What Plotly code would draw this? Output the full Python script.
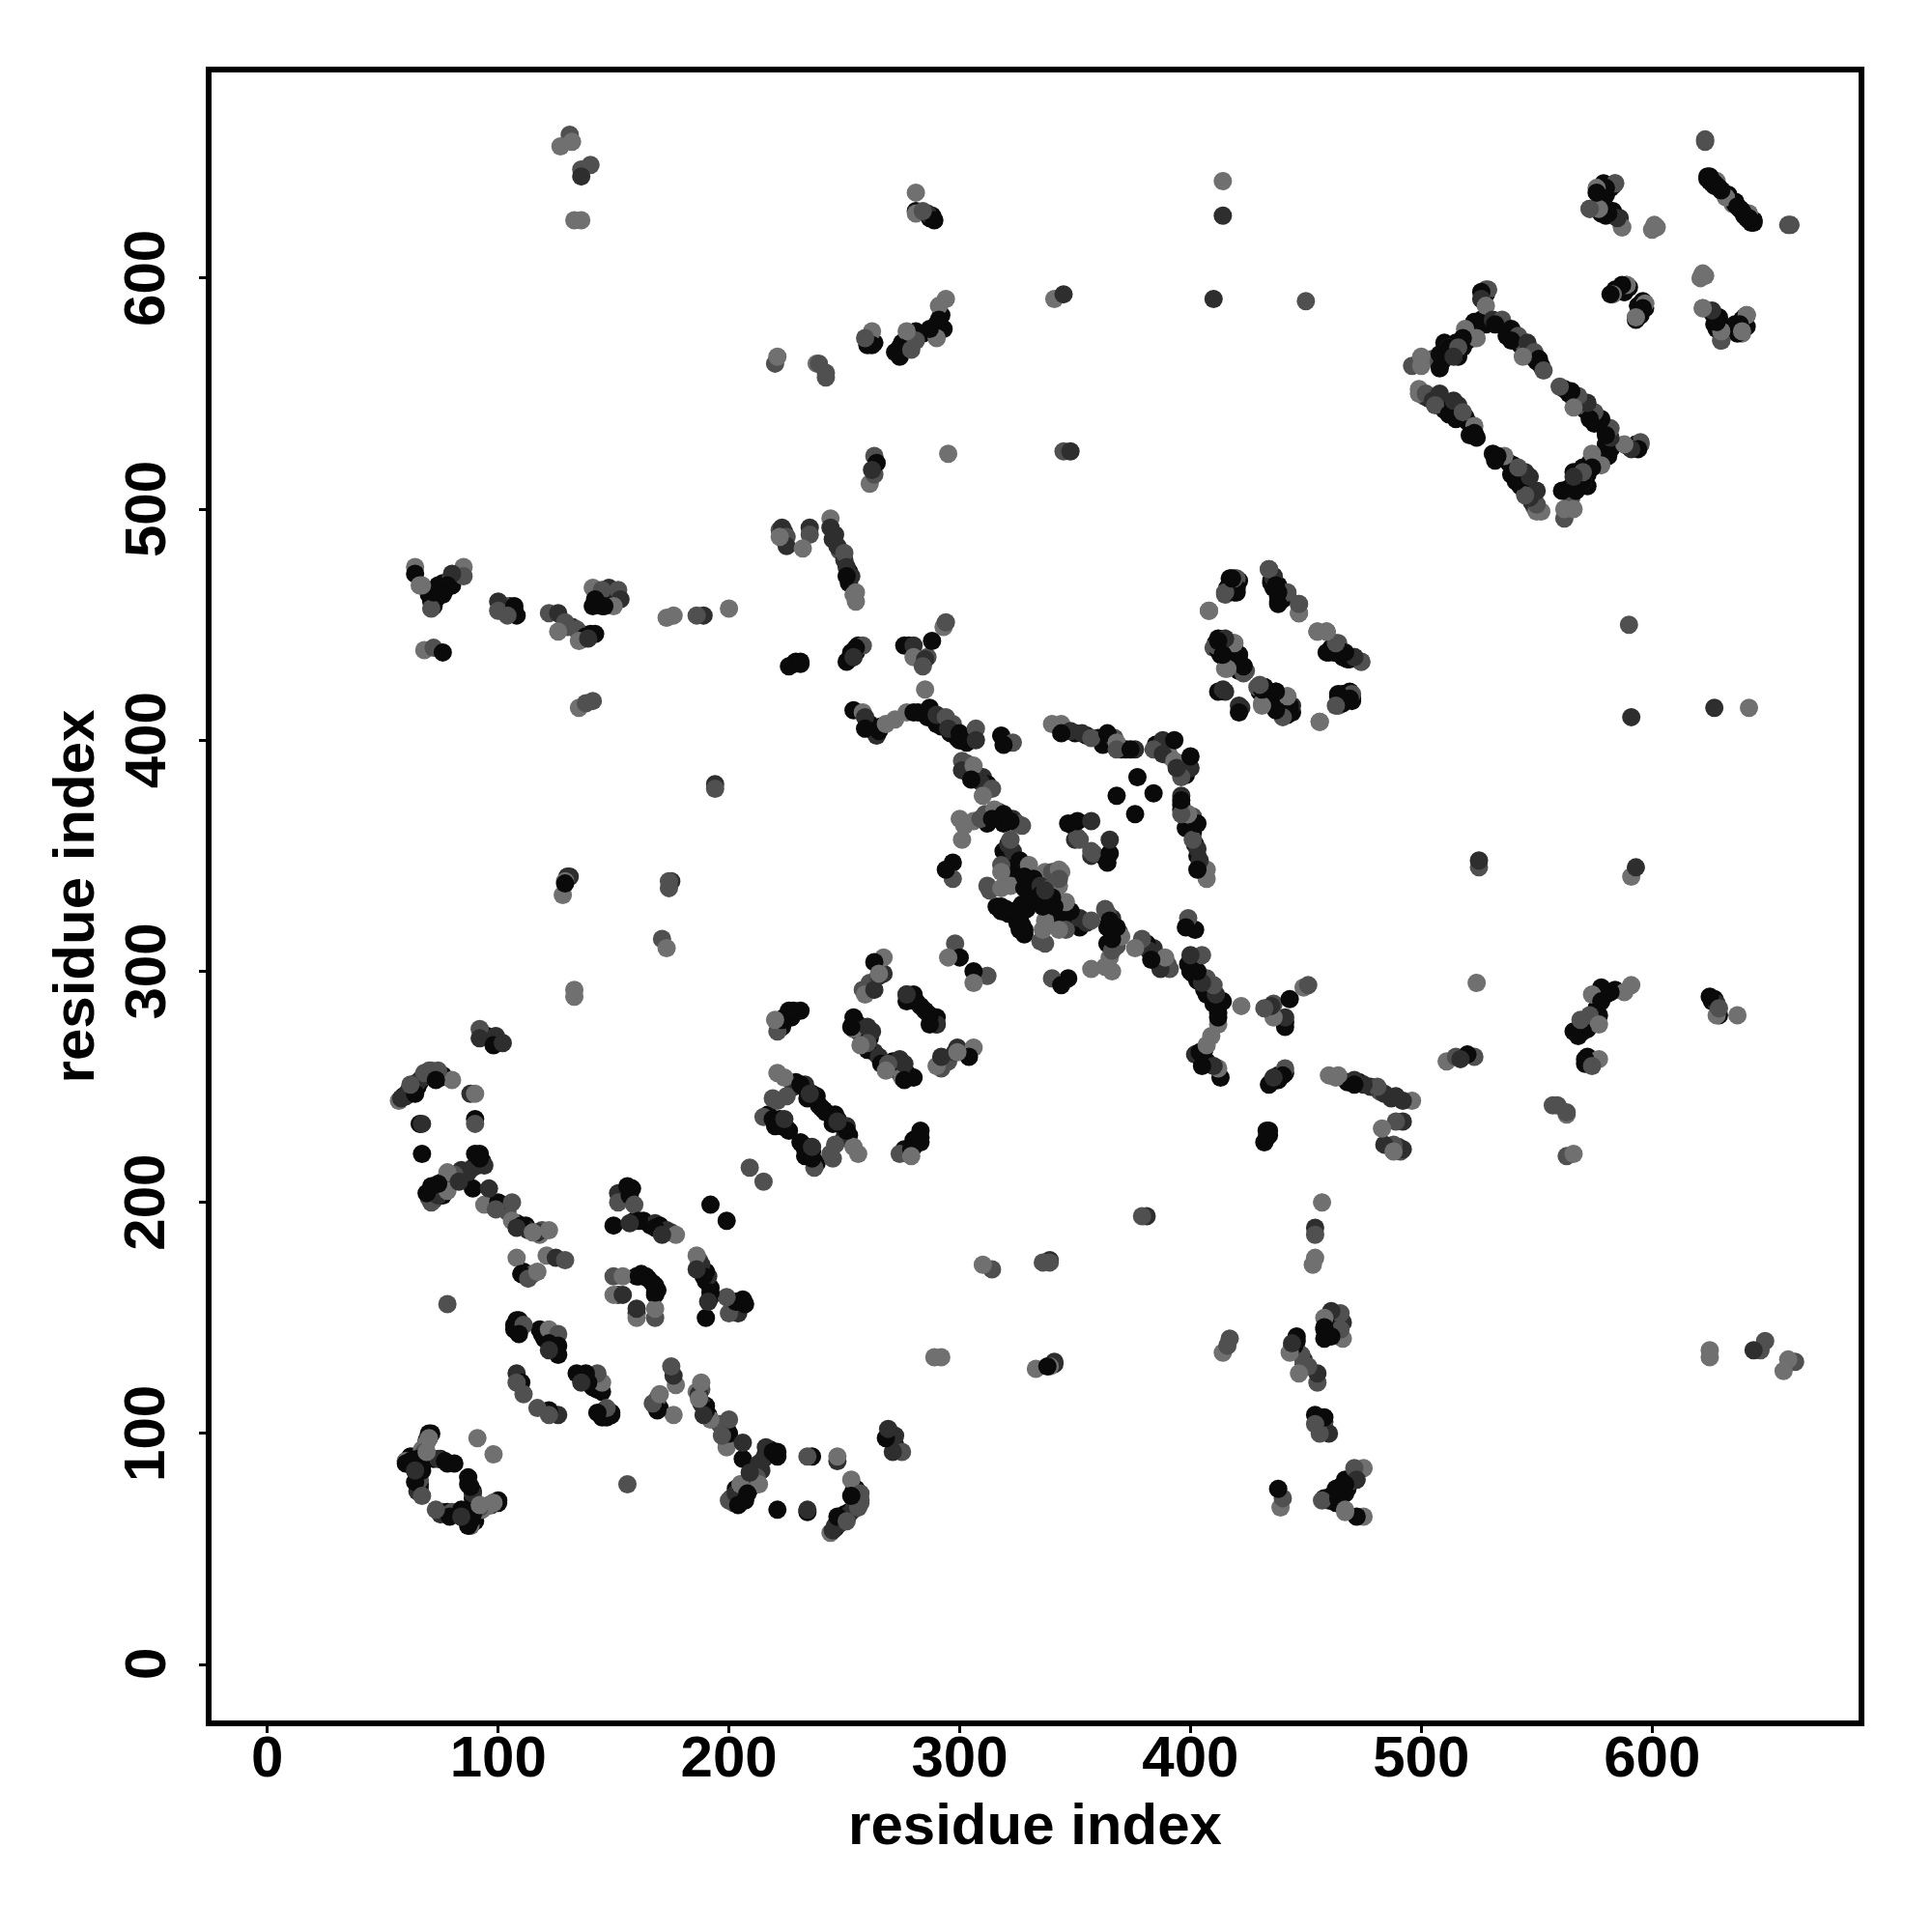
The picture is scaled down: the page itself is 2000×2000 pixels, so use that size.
import plotly.graph_objects as go

res_i = [
71,74,69,78,89,94,100,106,99,106,110,108,117,122,115,
108,110,113,117,121,125,129,
78,
108,107,111,109,119,122,126,122,126,126,122,
108,110,108,111,
70,69,68,60,62,65,74,77,81,66,64,67,69,60,67,62,64,70,
91,
152,157,159,150,161,157,170,173,177,192,168,171,
150,154,161,164,150,154,
130,129,128,129,175,174,174,171,173,133,133,
92,92,99,98,102,
57,58,61,64,65,68,71,75,80,64,62,74,73,
88,90,66,67,90,90,67,
90,94,92,87,81,78,83,74,71,96,156,
209,
221,224,221,219,225,215,219,221,225,224,233,231,237,235,
221,223,226,231,220,
254,254,260,262,253,260,260,257,
258,259,263,267,267,263,265,
277,281,287,290,277,
297,297,294,
298,300,295,
301,
321,322,318,318,326,330,337,328,332,312,318,328,318,320,327,330,335,340,
350,349,351,352,
261,263,
223,225,225,222,
235,235,232,
244,244,246,247,250,251,253,251,255,254,255,
231,226,231,
258,255,253,251,254,
276,280,280,285,284,
288,293,294,
285,
254,258,259,259,265,268,272,277,280,
287,290,294,295,300,300,307,307,
318,323,319,
340,344,348,353,357,344,
301,301,306,309,314,310,305,
315,319,325,327,322,300,302,309,314,347,351,357,
408,
420,418,420,415,
434,436,438,438,442,447,447,
455,459,464,459,464,470,474,467,
411,415,419,410,413,421,415,422,424,
415,412,422,
429,432,437,442,431,444,441,443,437,
456,
464,470,464,470,
364,368,368,376,374,
388,393,384,388,
377,368,
64,64,66,
85,85,80,78,74,76,71,71,72,67,
100,100,107,108,104,
122,126,129,134,126,138,142,135,139,
141,145,152,153,150,141,146,142,
173,176,189,186,200,
68,72,76,
135,138,141,
194,194,
131,132,127,
140,136,136,
133,136,
281,281,281,286,289,284,
294,291,291,293,290,287,
281,281,277,274,274,279,
262,262,259,
220,221,
238,239,242,242,
341,345,
263,264,262,
295,
345,348,
414,414,410,450,
496,500,500,
499,502,505,508,506,512,508,508,512,
623,
624,626,629,631,638,640,641,643,
660,
584,580,577,
573,577,581,586,587,
602,600,
623,622,
622,626,628,630,630,
641,639,639,637,
589,587,583,597,597,593,593,
528,526,526,528,
523,531,535,532,539,542,539,546,549,551,553,544,
519,524,518,516,514,
514,518,523,523,521,
]

res_j = [
200,203,204,205,206,199,200,200,197,192,190,189,187,188,187,
176,169,167,170,177,176,175,
156,
149,145,147,143,143,145,143,139,138,134,136,
126,122,122,117,
100,96,92,88,88,89,89,88,87,80,79,73,92,87,84,87,84,98,
98,
200,203,199,190,192,191,190,188,186,199,189,186,
168,168,168,168,160,160,
341,339,333,338,339,339,336,314,310,292,289,
275,271,272,268,269,
244,245,248,249,252,256,257,254,253,247,251,257,253,
247,247,234,234,236,234,221,
221,216,219,213,212,213,209,208,207,206,207,
215,
256,254,244,245,246,237,236,235,232,236,251,251,245,247,
274,279,283,283,279,
280,275,276,274,276,266,269,268,
292,290,292,299,306,304,299,
290,287,281,277,287,
347,340,344,
312,306,306,
357,
355,357,346,343,348,346,343,341,340,337,336,336,326,327,329,332,337,343,
357,363,358,357,
511,515,
492,488,484,488,
492,489,483,
496,492,489,484,481,475,471,471,464,463,460,
434,432,433,
441,440,437,434,436,
441,441,436,435,432,
443,449,451,
422,
413,412,410,405,404,407,409,412,412,
414,411,410,405,403,400,405,400,
402,399,398,
407,407,404,403,401,403,
391,387,389,382,379,376,383,
370,368,364,363,365,366,363,366,366,364,365,365,
456,
470,469,464,463,
474,471,467,460,463,459,455,
447,447,442,438,438,436,434,437,
442,443,442,440,437,437,431,431,430,
421,421,414,
423,423,421,419,416,415,411,412,414,
408,
419,419,415,418,
403,399,396,396,396,
400,400,396,394,
384,376,
475,472,467,
475,471,472,467,467,463,460,457,464,467,
460,456,458,454,454,
455,455,451,448,447,445,446,443,444,
466,465,465,461,458,458,458,461,
453,454,454,454,457,
439,440,438,
414,416,417,
381,379,
662,659,657,
649,647,644,
625,625,
637,629,628,628,625,629,
591,588,582,578,574,578,
577,573,577,570,566,569,
577,571,574,
563,566,
563,563,559,557,
591,593,
523,520,517,
524,
525,525,
642,627,591,590,
562,566,562,
550,550,547,550,545,541,561,567,570,
659,
644,642,639,637,630,628,626,624,
623,
641,638,639,
630,630,628,626,622,
622,621,
601,601,
587,585,581,577,573,
584,580,576,576,
597,596,593,589,587,583,582,
595,594,591,588,
581,582,582,580,578,575,573,572,568,565,560,566,
578,574,574,570,566,
547,542,536,533,532,
]

shade = (
"MDKLKLKMMLKDDLL"
"LKMLLDM"
"M"
"KKMKKLMKKKD"
"DKMM"
"KLMLKKDKKMKMLKKKDL"
"L"
"MKMKKDKDLKKD"
"MLKKLD"
"DLLKDMMMLLL"
"MDDKD"
"LDDKDMMKLKMMK"
"DLKDKMK"
"KDKDMLDKKDK"
"M"
"LLMMMMKKKDDKKD"
"MKKKL"
"KLDDKKML"
"MLDDLKL"
"DKKDK"
"KMK"
"MKL"
"L"
"DMMLKLLKKMLKKKKKDM"
"DKMM"
"LM"
"DMDL"
"DML"
"LDDDMDDKLLL"
"KKK"
"MKKKD"
"KDLDM"
"KLM"
"L"
"KLDKKLLLK"
"KDMDKKMD"
"KMK"
"LLDDMK"
"MDLDMLK"
"LKMMKLLMKKKD"
"L"
"MKKM"
"MDKKMLL"
"LMMKKDMK"
"KKLMKKLKM"
"DKD"
"MKKLLDMKK"
"L"
"KMMK"
"KLMDK"
"DKMD"
"KK"
"LKL"
"LMDKKKKMKL"
"DMKKM"
"MDMMLKKLD"
"LMMDLKKK"
"LLDML"
"LMK"
"LMM"
"DM"
"MLL"
"MMD"
"LL"
"LKLDKM"
"LLKKLK"
"KMLKKM"
"LKM"
"ML"
"LMMM"
"LD"
"MKD"
"L"
"MD"
"LDDM"
"MLL"
"LMDDMKKKK"
"M"
"KKKKKKKK"
"M"
"LKL"
"MLKDL"
"LL"
"LL"
"LDKLM"
"MKLK"
"LKLLKLK"
"MKDL"
"KDMKKMKDMKML"
"LLKMD"
"DMLKK"
)

under_i = [
60,62,64,66,67,68,69,70,71,72,75,78,64,66,66,65,
97,102,104,108,112,113,119,118,
72,76,70,74,
155,158,152,159,163,166,168,171,175,
107,109,110,118,120,121,124,125,
59,60,62,63,65,66,67,69,72,76,70,
92,93,91,89,85,84,79,76,
217,222,223,220,226,229,232,234,236,238,239,240,228,
223,224,227,228,
255,256,258,258,259,261,260,263,
261,265,265,
279,285,288,290,
319,321,323,324,325,328,322,316,318,321,323,331,333,336,344,313,
228,229,
252,253,255,256,
261,263,266,264,290,292,296,298,299,303,297,300,286,282,
303,304,307,310,312,
317,321,323,319,311,306,312,
346,350,355,360,362,
365,367,370,372,385,386,390,391,
412,414,416,418,420,421,423,413,
430,433,436,438,439,441,444,442,
435,436,438,439,
461,462,468,471,
418,417,421,416,
76,75,73,77,79,82,80,70,72,
144,148,145,150,148,
105,103,107,
132,130,136,140,137,
245,248,250,252,252,
275,276,272,277,280,284,290,289,291,292,
287,288,
625,627,630,632,633,636,639,641,642,644,628,635,
578,582,584,579,582,
590,588,595,594,
627,629,636,640,640,
528,529,527,521,522,520,526,528,534,536,537,540,541,543,544,547,548,550,552,516,515,518,
501,503,505,507,509,510,513,515,516,519,520,522,524,499,
509,511,513,510,505,512,
465,467,466,
260,263,278,286,131,
95,100,111,112,115,
160,162,165,152,224,222,
]

under_j = [
88,90,90,91,93,94,97,98,100,89,89,87,84,76,78,75,
199,199,196,191,190,188,188,186,
201,203,202,205,
204,206,204,192,192,190,191,187,187,
147,149,146,145,141,143,140,137,
246,246,248,250,250,252,254,255,255,255,257,
221,218,216,215,212,214,210,209,
238,236,233,233,231,252,250,245,247,246,242,241,250,
276,280,280,283,
278,274,276,271,273,271,267,265,
295,298,304,
288,283,279,280,
352,350,352,345,340,338,337,328,328,325,326,333,335,339,343,335,
433,434,
435,438,438,441,
407,404,406,402,407,406,403,404,401,399,407,400,410,412,
390,388,385,384,381,
369,366,366,364,368,365,364,
404,403,402,401,398,
401,401,396,396,398,396,397,393,
440,438,441,437,435,433,432,443,
421,420,417,415,412,414,412,416,
469,466,463,462,
440,438,435,436,
466,470,469,466,
468,464,461,465,469,471,467,463,458,
462,460,458,461,466,
458,458,456,
449,449,446,446,444,
487,482,478,473,468,
572,569,568,571,574,576,580,576,578,584,
626,627,
643,640,638,636,636,633,629,627,625,625,642,632,
628,629,627,641,639,
596,594,584,588,
580,583,580,580,583,
593,595,590,578,575,573,582,580,580,579,575,576,573,571,572,569,566,564,562,566,572,570,
549,548,548,546,545,543,541,539,545,540,538,534,531,552,
564,566,568,572,565,570,
417,418,420,
571,572,441,436,341,
272,270,170,168,169,
168,169,167,160,490,491,
]

under_shade = (
"LKKKLLDKKKKKKDKD"
"DKMKKDML"
"DKMK"
"KKDKKKDKM"
"KKKKKDKK"
"KDKDKKMDKKM"
"KKKDKDMK"
"KKKKKKKKKKKKD"
"KKKK"
"KDKKMKKD"
"MDK"
"KKKK"
"KKDKKKLKKKKKKMLM"
"KK"
"KKKK"
"KKKDKKKKKKMKKK"
"MMDDK"
"MKDKMLK"
"DKKKK"
"KMKKKKKL"
"KKKKKKKK"
"KKKKKKKK"
"KKKK"
"KKKD"
"KKKK"
"KKKKMDKKK"
"KKKKD"
"DMK"
"DMKKK"
"DMDKK"
"KKKDKKKKKK"
"KK"
"KKKKKKKKKKLL"
"KKKKK"
"KKKK"
"KKKKK"
"KMKKKKKKKKKKDKMDKKKKKK"
"MDKMDKKKDKKKKL"
"KKKKMM"
"KKK"
"KKKMD"
"KDKDM"
"KKKDDM"
)

grey_levels = {"L": "#707070", "M": "#505050", "D": "#2e2e2e", "K": "#0a0a0a"}
tick_values = [0, 100, 200, 300, 400, 500, 600]
axis_title = "residue index"

assert len(res_i) == len(res_j) == len(shade), (len(res_i), len(res_j), len(shade))
assert len(under_i) == len(under_j) == len(under_shade), (len(under_i), len(under_j), len(under_shade))

all_i = under_i + res_i
all_j = under_j + res_j
colors = [grey_levels[s] for s in under_shade + shade]

fig = go.Figure()
fig.add_trace(go.Scatter(
    x=all_i + all_j, y=all_j + all_i, mode="markers",
    marker=dict(size=19, color=colors + colors, line=dict(width=0)),
    hoverinfo="skip", showlegend=False))

font = dict(family="Liberation Sans", size=60, color="black", weight=700)
axis = dict(
    tickvals=tick_values, showgrid=False, zeroline=False,
    showline=True, mirror=True, linecolor="black", linewidth=5.5,
    ticks="outside", ticklen=7, tickwidth=3, tickcolor="black", tickfont=font,
    automargin=False)

fig.update_layout(
    width=2000, height=2000, autosize=False,
    margin=dict(l=211, r=84, t=67, b=227, pad=0),
    paper_bgcolor="white", plot_bgcolor="white",
    xaxis=dict(axis, range=[-24.2, 689.5], ticklabelstandoff=-27,
               title=dict(text=axis_title, font=font, standoff=18)),
    yaxis=dict(axis, range=[-24.2, 689.0], showticklabels=False,
               title=dict(text=axis_title, font=font, standoff=91)),
    annotations=[dict(text=str(v), x=0, xref="paper", y=v, yref="y",
                      xanchor="center", yanchor="middle", xshift=-69,
                      textangle=-90, showarrow=False, font=font)
                 for v in tick_values],
)
fig.write_html("out.html")
